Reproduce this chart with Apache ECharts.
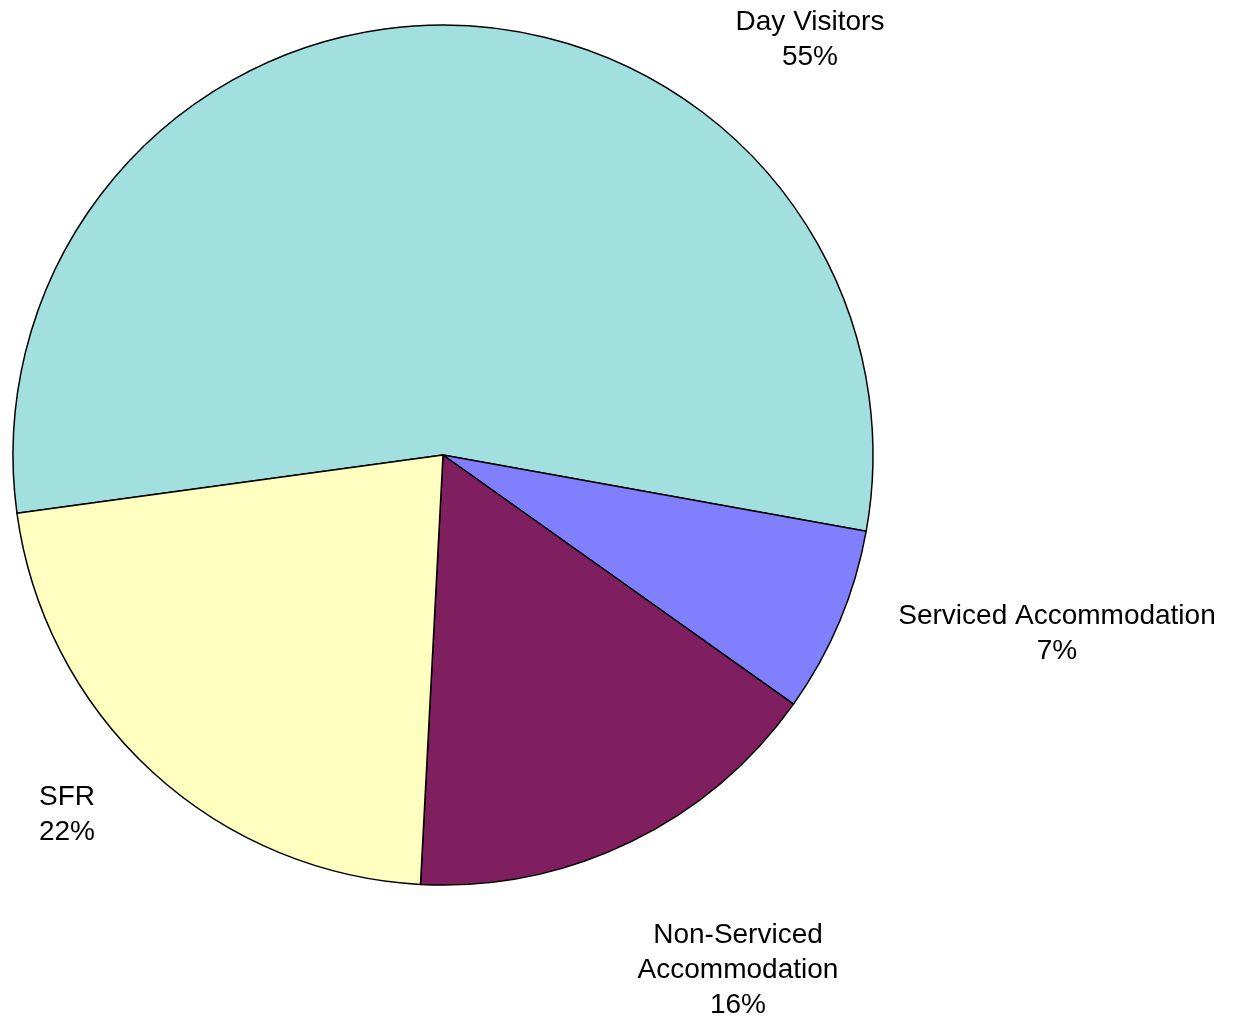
<!DOCTYPE html>
<html>
<head>
<meta charset="utf-8">
<script src="https://cdn.jsdelivr.net/npm/echarts@6/dist/echarts.min.js"></script>
<style>
  html, body { margin: 0; padding: 0; background: #fff; }
  #chart { width: 1234px; height: 1022px; }
</style>
</head>
<body>
<div id="chart"></div>
<script>
// Visitor segments and their shares (%)
const categories = ['Day Visitors', 'Serviced Accommodation', 'Non-Serviced\nAccommodation', 'SFR'];
const shares = [55, 7, 16, 22];
const sliceColors = ['#A2E0E0', '#8080FF', '#7F1F5F', '#FFFFC0'];

// Where each label block is centred on the canvas
const labelSpots = [[810, 40], [1057, 634], [738, 970], [67, 815]];

const chart = echarts.init(document.getElementById('chart'), null, { renderer: 'canvas' });

chart.setOption({
  backgroundColor: '#ffffff',
  animation: false,
  series: [{
    type: 'pie',
    center: [443, 455],
    radius: 430,
    startAngle: 187.8,
    clockwise: true,
    data: categories.map((name, i) => ({
      name: name,
      value: shares[i],
      itemStyle: { color: sliceColors[i] }
    })),
    itemStyle: { borderColor: '#000', borderWidth: 1.5 },
    label: {
      show: true,
      position: 'outside',
      formatter: p => p.name + '\n' + p.value + '%',
      fontFamily: 'Liberation Sans, Arial, sans-serif',
      fontSize: 28,
      lineHeight: 35,
      color: '#000',
      align: 'center'
    },
    labelLine: { show: false },
    labelLayout: p => ({
      x: labelSpots[p.dataIndex][0],
      y: labelSpots[p.dataIndex][1],
      align: 'center',
      verticalAlign: 'middle'
    }),
    emphasis: { disabled: true }
  }]
});
</script>
</body>
</html>
